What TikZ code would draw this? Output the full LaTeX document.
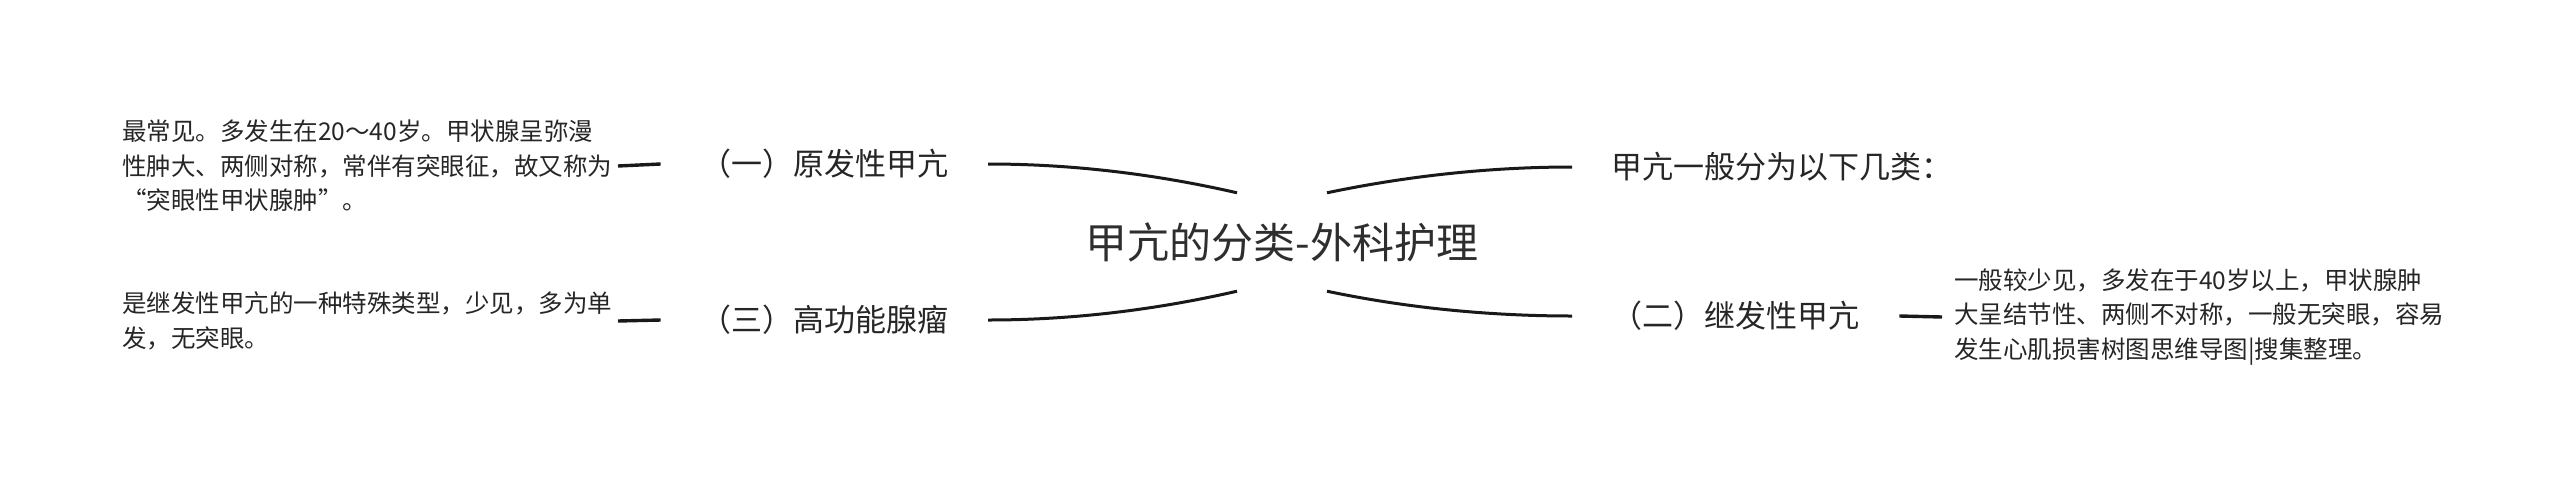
\documentclass[tikz,border=0pt]{standalone}
\usepackage{fontspec}
\newfontfamily\cjk{Noto Sans CJK SC}
\begin{document}
\begin{tikzpicture}[x=1pt,y=-1pt,
  central/.style={font={\cjk\fontsize{42}{50}\selectfont}, text=black!82, minimum height=98pt, inner xsep=10pt, inner ysep=0pt},
  branch/.style={font={\cjk\fontsize{31}{38}\selectfont}, text=black!85, inner xsep=39.5pt, inner ysep=4pt},
  detail/.style={font={\cjk\fontsize{24.5}{34.5}\selectfont}, text=black!85, align=left, inner xsep=5.5pt, inner ysep=2pt},
  link/.style={draw=black!90, line width=3pt},
  stub/.style={draw=black!90, line width=3.4pt}
]
\useasboundingbox (0,0) rectangle (2560,480);
\node[central] (c) at (1282,242) {甲亢的分类-外科护理};
\node[branch, anchor=east] (n1) at (988,164) {（一）原发性甲亢};
\node[branch, anchor=east] (n3) at (988,320) {（三）高功能腺瘤};
\node[branch, anchor=west] (r1) at (1572,167) {甲亢一般分为以下几类：};
\node[branch, anchor=west] (n2) at (1572,316) {（二）继发性甲亢};
\node[detail, anchor=east] (d1) at (618,166) {最常见。多发生在20～40岁。甲状腺呈弥漫\\性肿大、两侧对称，常伴有突眼征，故又称为\\\makebox[24.5pt][r]{“}突眼性甲状腺肿\makebox[24.5pt][l]{”}。};
\node[detail, anchor=east] (d3) at (618,321) {是继发性甲亢的一种特殊类型，少见，多为单\\发，无突眼。};
\node[detail, anchor=west, inner xsep=12pt] (d2) at (1942,317) {一般较少见，多发在于40岁以上，甲状腺肿\\大呈结节性、两侧不对称，一般无突眼，容易\\发生心肌损害树图思维导图|搜集整理。};
\draw[link] (n1.east) .. controls +(83,0) and +(-83,-19) .. ([xshift=-45pt]c.north);
\draw[link] (n3.east) .. controls +(83,0) and +(-83,19) .. ([xshift=-45pt]c.south);
\draw[link] (r1.west) .. controls +(-81,0) and +(81,-17) .. ([xshift=45pt]c.north);
\draw[link] (n2.west) .. controls +(-81,0) and +(81,17) .. ([xshift=45pt]c.south);
\draw[stub] (n1.west) -- (d1.east);
\draw[stub] (n3.west) -- (d3.east);
\draw[stub] (n2.east) -- (d2.west);
\end{tikzpicture}
\end{document}
